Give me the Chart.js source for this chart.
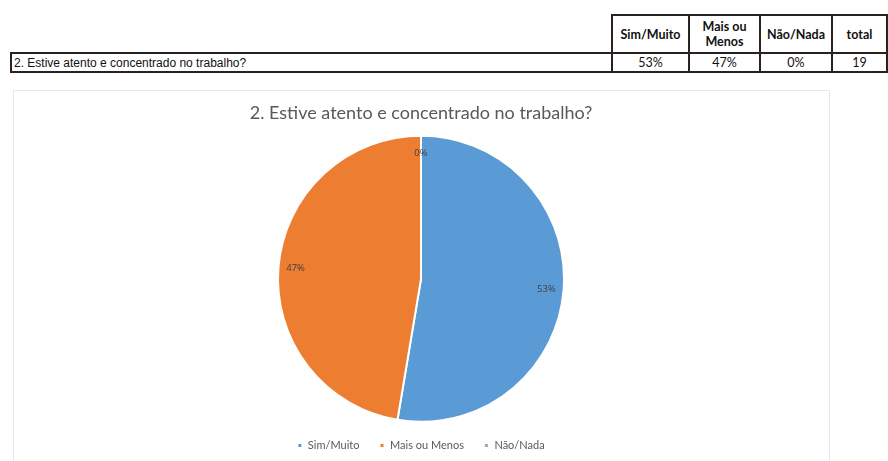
<!DOCTYPE html>
<html lang="pt">
<head>
<meta charset="UTF-8">
<title>2. Estive atento e concentrado no trabalho?</title>
<script src="https://cdn.jsdelivr.net/npm/chart.js"></script>
<style>
  body { margin: 0; background: #fff; width: 888px; height: 461px; overflow: hidden; position: relative; }
  table { position: absolute; left: 10px; top: 14px; border-collapse: collapse; }
  td, th { border: 2px solid #2a2220; padding: 0; text-align: center; }
  th { font-family: Lato, "Open Sans", sans-serif; font-weight: bold; font-size: 12.5px; color: #111; line-height: 15px; height: 36px; }
  td { font-family: Lato, sans-serif; font-size: 12.5px; color: #111; height: 17px; }
  td.q { text-align: left; font-family: "Liberation Sans", Arial, sans-serif; font-size: 12px; padding-left: 2px; }
  th.blank { border: none; }
  #box { position: absolute; left: 13px; top: 90px; width: 815px; height: 380px; border: 1px solid #e1e8ef; }
  #wrap { position: absolute; left: 13px; top: 90px; width: 816px; height: 371px; }
</style>
</head>
<body>

<table>
  <tr>
    <th class="blank" style="width:600px"></th>
    <th style="width:75px">Sim/Muito</th>
    <th style="width:69px">Mais ou<br>Menos</th>
    <th style="width:70px">Não/Nada</th>
    <th style="width:53px">total</th>
  </tr>
  <tr>
    <td class="q" id="pergunta"></td>
    <td id="p0"></td>
    <td id="p1"></td>
    <td id="p2"></td>
    <td id="tot"></td>
  </tr>
</table>

<div id="box"></div>
<div id="wrap"><canvas id="grafico"></canvas></div>

<script>
var titulo = '2. Estive atento e concentrado no trabalho?';
var categorias = ['Sim/Muito', 'Mais ou Menos', 'Não/Nada'];
var respostas = [10, 9, 0];
var cores = ['#5b9bd5', '#ed7d31', '#a5a5a5'];

var total = respostas.reduce(function(a, b) { return a + b; }, 0);
var pct = respostas.map(function(v) { return Math.round(v / total * 100) + '%'; });

document.getElementById('pergunta').textContent = titulo;
pct.forEach(function(p, i) { document.getElementById('p' + i).textContent = p; });
document.getElementById('tot').textContent = total;

// rotulos de percentagem dentro das fatias
var rotulos = {
  id: 'rotulos',
  afterDatasetsDraw: function(chart) {
    var ctx = chart.ctx;
    var arcos = chart.getDatasetMeta(0).data;
    ctx.save();
    ctx.font = '9.5px "Open Sans", sans-serif';
    ctx.fillStyle = '#404040';
    ctx.textAlign = 'center';
    ctx.textBaseline = 'middle';
    arcos.forEach(function(arc, i) {
      var a = (arc.startAngle + arc.endAngle) / 2;
      var r = arc.outerRadius * 0.88;
      ctx.fillText(pct[i], arc.x + Math.cos(a) * r, arc.y + Math.sin(a) * r);
    });
    ctx.restore();
  }
};

var ctx = document.getElementById('grafico').getContext('2d');
new Chart(ctx, {
  type: 'pie',
  data: {
    labels: categorias,
    datasets: [{
      data: respostas,
      backgroundColor: cores,
      borderColor: '#ffffff',
      borderWidth: 2
    }]
  },
  options: {
    responsive: true,
    maintainAspectRatio: false,
    animation: false,
    radius: 143,
    layout: { padding: 0 },
    plugins: {
      title: {
        display: true,
        text: titulo,
        color: '#595959',
        font: { family: 'Lato, "Open Sans", sans-serif', size: 18, weight: 'normal' },
        padding: { top: 12, bottom: 14 }
      },
      legend: {
        position: 'bottom',
        labels: {
          color: '#595959',
          font: { family: 'Lato, "Open Sans", sans-serif', size: 11 },
          usePointStyle: true,
          pointStyle: 'rect',
          boxWidth: 5,
          boxHeight: 5,
          padding: 20
        }
      },
      tooltip: { enabled: false }
    }
  },
  plugins: [rotulos]
});
</script>

</body>
</html>
